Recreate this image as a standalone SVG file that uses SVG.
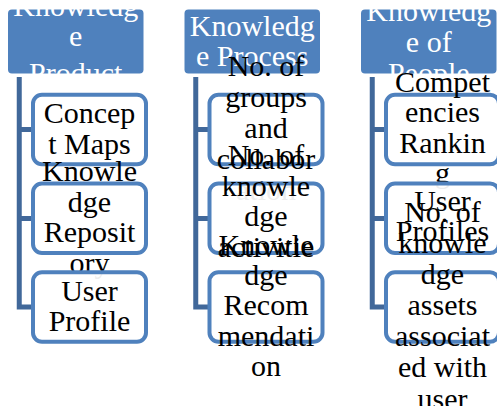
<svg xmlns="http://www.w3.org/2000/svg" width="497" height="406" viewBox="0 0 497 406">
<style>
.hdr{fill:#4F81BD}
.box{fill:#FFFFFF;fill-opacity:0.93;stroke:#4F81BD;stroke-width:4}
.conn{fill:none;stroke:#41689A;stroke-width:5;stroke-linejoin:miter}
.ht{font-family:"Liberation Serif","Times New Roman",serif;font-size:30px;fill:#FFFFFF;text-anchor:middle}
.ct{font-family:"Liberation Serif","Times New Roman",serif;font-size:30px;fill:#000000;text-anchor:middle}
</style>
<rect width="497" height="406" fill="#FFFFFF"/>
<g id="hdr-product">
<rect class="hdr" x="8" y="9.5" width="135.5" height="64" rx="4"/>
<text class="ht"><tspan x="75.75" y="15.5">Knowledg</tspan><tspan x="75.75" y="46">e</tspan><tspan x="75.75" y="83">Product</tspan></text>
</g>
<g id="hdr-process">
<rect class="hdr" x="184.5" y="9.5" width="135.5" height="64" rx="4"/>
<text class="ht"><tspan x="252.25" y="36">Knowledg</tspan><tspan x="252.25" y="65.5">e Process</tspan></text>
</g>
<g id="hdr-people">
<rect class="hdr" x="361" y="9.5" width="135.5" height="64" rx="4"/>
<text class="ht"><tspan x="428.75" y="20.5">Knowledg</tspan><tspan x="428.75" y="51.5">e of</tspan><tspan x="428.75" y="83">People</tspan></text>
</g>
<g id="connectors">
<path class="conn" d="M19.25 77 V129.5 H33 M19.25 77 V218.5 H33 M19.25 77 V307 H33"/>
<path class="conn" d="M195.75 77 V129.5 H209.5 M195.75 77 V218.5 H209.5 M195.75 77 V307 H209.5"/>
<path class="conn" d="M372.25 77 V129.5 H386 M372.25 77 V218.5 H386 M372.25 77 V307 H386"/>
</g>
<g id="concept-maps">
<rect class="box" x="33" y="94.75" width="113" height="69.5" rx="9"/>
<text class="ct"><tspan x="89.5" y="122.5">Concep</tspan><tspan x="89.5" y="153.5">t Maps</tspan></text>
</g>
<g id="groups-collaboration">
<rect class="box" x="209.5" y="94.75" width="113" height="69.5" rx="9"/>
<text class="ct"><tspan x="266" y="75.5">No. of</tspan><tspan x="266" y="106.5">groups</tspan><tspan x="266" y="137.5">and</tspan><tspan x="266" y="168.5">collabor</tspan><tspan x="266" y="199.5">ation</tspan></text>
</g>
<g id="competencies-ranking">
<rect class="box" x="386" y="94.75" width="113" height="69.5" rx="9"/>
<text class="ct"><tspan x="442.5" y="91.5">Compet</tspan><tspan x="442.5" y="122">encies</tspan><tspan x="442.5" y="153">Rankin</tspan><tspan x="442.5" y="183">g</tspan></text>
</g>
<g id="knowledge-repository">
<rect class="box" x="33" y="183.5" width="113" height="69.5" rx="9"/>
<text class="ct"><tspan x="89.5" y="180.5">Knowle</tspan><tspan x="89.5" y="211.5">dge</tspan><tspan x="89.5" y="242">Reposit</tspan><tspan x="89.5" y="273">ory</tspan></text>
</g>
<g id="knowledge-activities">
<rect class="box" x="209.5" y="183.5" width="113" height="69.5" rx="9"/>
<text class="ct"><tspan x="266" y="165">No. of</tspan><tspan x="266" y="195.5">knowle</tspan><tspan x="266" y="226">dge</tspan><tspan x="266" y="257">activitie</tspan><tspan x="266" y="288">s</tspan></text>
</g>
<g id="user-profiles">
<rect class="box" x="386" y="183.5" width="113" height="69.5" rx="9"/>
<text class="ct"><tspan x="442.5" y="210.5">User</tspan><tspan x="442.5" y="241">Profiles</tspan></text>
</g>
<g id="user-profile">
<rect class="box" x="33" y="272.25" width="113" height="69.5" rx="9"/>
<text class="ct"><tspan x="89.5" y="301">User</tspan><tspan x="89.5" y="331">Profile</tspan></text>
</g>
<g id="knowledge-recommendation">
<rect class="box" x="209.5" y="272.25" width="113" height="69.5" rx="9"/>
<text class="ct"><tspan x="266" y="254.5">Knowle</tspan><tspan x="266" y="285">dge</tspan><tspan x="266" y="315">Recom</tspan><tspan x="266" y="345.5">mendati</tspan><tspan x="266" y="376">on</tspan></text>
</g>
<g id="knowledge-assets">
<rect class="box" x="386" y="272.25" width="113" height="69.5" rx="9"/>
<text class="ct"><tspan x="442.5" y="222">No. of</tspan><tspan x="442.5" y="253">knowle</tspan><tspan x="442.5" y="284">dge</tspan><tspan x="442.5" y="315">assets</tspan><tspan x="442.5" y="346">associat</tspan><tspan x="442.5" y="377">ed with</tspan><tspan x="442.5" y="409">user</tspan></text>
</g>
</svg>
